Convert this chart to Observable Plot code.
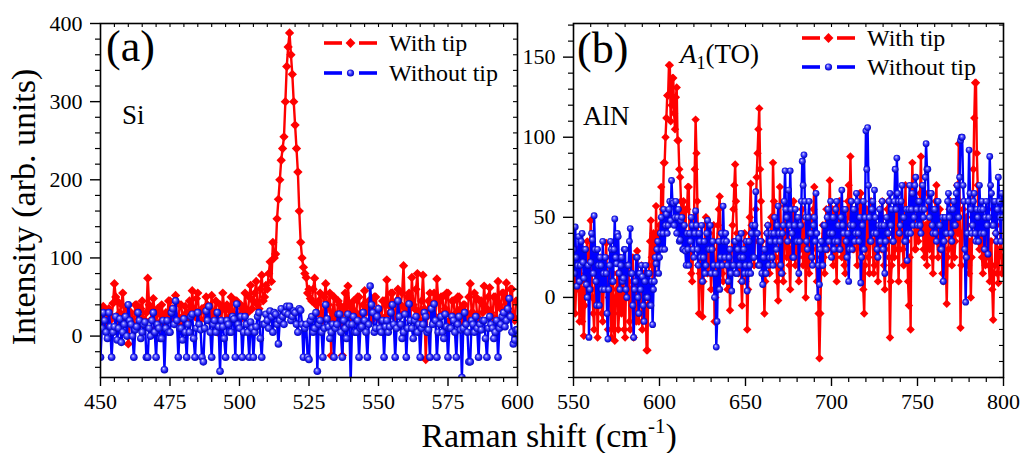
<!DOCTYPE html>
<html><head><meta charset="utf-8">
<script src="https://cdn.jsdelivr.net/npm/d3@7"></script>
<script src="https://cdn.jsdelivr.net/npm/@observablehq/plot@0.6"></script>
<style>
body{margin:0;background:#fff;}
#fig{position:relative;width:1021px;height:453px;overflow:hidden;background:#fff;font-family:"Liberation Serif","Times New Roman",serif;}
.pnl{position:absolute;top:0;}
.pnl svg{overflow:visible;background:transparent;font-family:"Liberation Serif","Times New Roman",serif;}
#ov{position:absolute;left:0;top:0;}
</style></head><body><div id="fig"></div>
<script>
// ---- Panel (a): Si, Raman shift 450..600 cm-1, sampled every 0.5 cm-1 ----
const siStart = 450, siStep = 0.5;
const siWithTip = [
 30,22,38,15,10,28,35,20,25,42,67,50,45,18,30,40,55,25,20,35,
 -10,15,30,22,15,40,40,12,25,35,45,18,20,30,74,40,35,22,48,30,
 10,35,30,18,40,25,5,30,25,45,45,20,35,28,52,15,20,40,40,25,
 15,38,30,20,45,25,58,35,25,48,55,20,10,35,35,22,50,40,20,30,
 52,25,30,45,5,30,40,20,55,35,15,40,35,25,50,30,25,45,45,20,
 20,40,35,25,55,30,30,50,65,35,45,55,70,40,35,60,78,45,50,65,
 60,80,95,70,120,100,105,150,175,200,225,240,255,300,345,370,388,360,335,300,
 270,240,210,160,120,100,88,80,75,55,60,48,45,60,74,40,30,45,55,25,
 20,50,67,35,40,55,-25,30,50,20,25,45,40,15,-25,35,55,30,64,40,
 15,35,45,20,30,50,50,25,20,40,58,30,35,45,45,20,25,50,50,30,
 35,20,20,45,45,25,72,40,30,55,55,25,25,45,60,30,40,55,90,35,
 30,50,55,20,75,40,35,60,80,30,20,45,78,35,-30,25,45,55,30,40,
 55,25,73,45,25,50,50,30,35,55,55,20,20,45,45,25,30,50,50,35,
 15,40,40,25,25,50,67,30,30,55,50,25,20,45,45,30,64,35,35,50,
 62,30,25,50,50,20,70,40,35,55,55,25,68,35,30,60,60,25,20,45,
 45];
const siWithoutTip = [
 -27,10,30,20,5,-3,30,12,-27,5,12,25,-5,10,22,-8,5,15,25,0,
 40,20,15,0,-27,8,12,30,20,-3,5,15,18,-27,-27,10,0,20,30,5,
 -27,15,10,-3,-3,20,-43,10,20,5,5,30,35,15,45,20,-27,10,10,-5,
 22,5,-27,15,5,25,28,-3,-27,10,30,15,8,-27,-33,10,32,20,38,5,
 -27,15,20,5,30,12,-45,20,12,-3,-27,20,15,5,5,25,22,-27,41,15,
 10,25,-27,5,25,15,5,-27,18,10,-27,5,12,25,30,-3,-27,15,15,28,
 20,10,32,25,5,30,28,15,-10,20,35,25,15,30,38,28,38,20,25,32,
 30,15,5,35,33,15,-27,10,15,-27,-30,20,25,5,10,30,-45,15,20,5,
 -27,10,40,22,12,-3,5,15,-27,10,15,28,28,5,-27,20,10,-3,28,15,
 -58,15,25,5,5,20,-27,10,12,30,20,5,-27,15,64,40,30,5,10,25,
 35,10,5,20,-27,12,20,5,12,30,40,15,-27,10,45,25,15,-3,5,28,
 -27,10,41,20,10,-3,20,25,5,15,-27,10,15,30,25,5,8,-27,35,15,
 41,20,-27,5,15,25,5,-3,28,12,-27,10,10,25,20,5,-27,15,25,8,
 -53,10,30,15,5,-33,-33,20,15,5,25,10,-27,15,8,20,20,-3,-27,10,
 25,15,10,-3,5,20,-27,10,15,25,30,12,20,35,48,25,5,-10,-5,8,
 8];
// ---- Panel (b): AlN, Raman shift 550..800 cm-1, sampled every 0.5 cm-1 ----
const alnStart = 550, alnStep = 0.5;
const alnWithTip = [
 15,30,-10,5,30,20,5,-15,25,10,-15,5,-24,-5,15,30,35,12,10,25,
 48,20,0,-10,-20,5,25,10,-25,-5,10,25,20,-10,-15,5,5,20,34,10,
 -20,0,10,25,-25,-5,15,-20,-27,0,5,15,-20,-10,25,0,-10,15,15,-20,
 -25,5,0,20,20,-15,-20,5,10,25,-25,0,5,-15,29,10,-15,0,10,20,
 -20,5,15,-10,-5,-33,-33,10,20,35,48,25,10,40,35,15,57,30,25,40,
 45,35,69,50,55,84,84,100,112,126,126,145,145,110,120,137,137,115,105,125,
 131,98,98,80,75,60,52,40,60,35,40,55,55,69,69,35,30,15,10,30,
 45,80,111,90,60,20,-10,15,35,20,-12,10,20,45,50,25,15,35,40,20,
 5,20,30,45,-15,0,20,35,45,55,63,40,25,15,10,35,40,25,20,5,
 5,30,-8,15,30,45,55,70,83,60,40,20,15,35,30,10,-5,20,25,40,
 10,30,-20,5,35,50,71,45,40,25,20,35,55,75,90,105,118,80,60,35,
 30,15,-10,10,25,40,45,20,15,35,50,30,84,60,40,25,20,10,-2,25,
 69,45,30,15,10,40,57,35,25,50,40,20,5,30,35,50,60,30,20,45,
 45,25,10,35,30,50,55,20,25,45,0,30,40,20,15,40,50,25,30,55,
 69,40,25,10,10,-10,-38,-10,20,35,45,25,15,40,55,30,30,50,73,45,
 40,55,20,35,55,25,10,40,35,60,60,30,25,50,45,20,15,35,40,60,
 70,50,88,60,50,30,30,45,55,35,20,40,40,65,65,30,25,5,-10,20,
 30,55,50,25,15,35,60,40,35,15,20,45,45,25,10,30,55,40,30,60,
 40,20,5,30,35,55,60,25,-25,10,20,40,45,25,30,55,65,40,10,30,
 40,60,55,30,20,45,70,40,35,10,-5,25,-20,50,84,60,50,30,30,55,
 60,35,40,65,88,50,55,30,25,45,45,20,65,40,30,55,50,25,15,40,
 40,60,70,35,25,50,55,30,35,15,10,40,45,20,-4,25,30,55,60,35,
 20,45,50,25,35,60,70,40,96,60,-19,20,40,55,60,30,25,50,45,20,
 15,35,0,25,55,80,112,134,134,90,70,35,30,55,50,25,15,40,40,20,
 25,45,55,20,10,35,35,5,-14,15,20,40,45,15,9,30,30,50,15,25,
 20];
const alnWithoutTip = [
 30,15,44,25,7,20,38,10,20,35,40,22,12,30,30,8,0,20,-25,5,
 22,40,36,15,51,30,10,-5,30,20,-5,25,20,5,35,15,5,25,15,-10,
 -26,5,20,35,30,10,10,30,49,25,21,40,38,15,5,20,25,10,12,30,
 30,5,0,20,20,35,43,15,15,-5,-25,5,10,25,25,0,-10,15,5,20,
 13,-5,-15,10,20,0,0,15,15,-5,-5,10,-17,5,10,25,21,30,35,15,
 25,40,50,30,40,55,30,45,52,40,45,55,60,48,73,60,59,45,50,60,
 40,50,55,35,36,48,50,30,30,45,29,20,40,30,20,40,35,50,45,30,
 25,40,54,45,30,20,40,35,25,45,10,25,35,15,20,40,48,30,30,45,
 15,30,35,20,0,15,-31,-15,20,35,5,25,40,20,57,35,25,40,35,20,
 10,25,30,15,4,20,20,35,35,15,15,30,37,20,25,40,10,25,30,15,
 20,35,4,15,35,20,15,40,45,25,25,45,66,40,40,20,20,35,35,15,
 8,25,30,15,15,40,45,20,25,35,40,25,20,40,50,35,30,45,57,40,
 35,20,15,40,45,60,79,55,50,35,67,45,79,55,40,25,25,45,55,35,
 35,50,15,35,45,60,85,70,89,60,50,35,30,50,60,40,40,25,20,45,
 50,35,65,40,0,20,8,30,35,20,20,45,45,30,30,50,55,35,40,60,
 25,40,50,30,35,55,60,35,45,30,30,50,67,45,40,55,55,35,25,40,
 10,30,45,60,30,45,55,35,40,65,60,40,35,50,9,25,45,60,30,50,
 104,80,106,70,50,35,35,55,60,40,67,50,40,30,25,45,55,35,45,60,
 30,45,15,35,50,40,40,60,65,45,55,35,35,60,80,55,87,65,60,40,
 45,60,70,50,50,35,35,55,23,40,55,70,40,55,65,45,50,70,75,55,
 45,60,60,45,40,55,70,50,55,75,96,80,80,60,50,65,65,45,40,55,
 55,40,35,60,60,45,45,30,30,50,10,35,50,40,40,60,65,50,55,40,
 35,55,60,45,45,65,70,50,50,75,98,100,100,70,60,30,-3,25,40,60,
 92,65,55,40,45,60,65,40,35,55,50,35,70,55,40,60,55,40,30,50,
 60,45,27,50,88,70,65,45,45,60,60,40,35,55,75,60,50,35,65,50,
 55];
// ---- axes ----
const ticksAX = [450,475,500,525,550,575,600];
const ticksAY = [0,100,200,300,400];
const ticksBX = [550,600,650,700,750,800];
const ticksBY = [0,50,100,150];
const seriesNames = ["With tip", "Without tip"];

const FONT = "Liberation Serif, Times New Roman, serif";
const RED = "#ff0000", BLUE = "#0000ff";
const H = 453, MT = 23, MB = 76;

function panel(cfg){
  const innerW = cfg.width - cfg.ml - cfg.mr, innerH = H - MT - MB;
  const red = cfg.red.map((y,i)=>({x: cfg.x0 + i*cfg.dx, y}));
  const blue = cfg.blue.map((y,i)=>({x: cfg.x0 + i*cfg.dx, y}));
  const minorX = d3.range(cfg.xd[0], cfg.xd[1] + 0.01, cfg.xmStep).filter(v => !cfg.xt.includes(v));
  const allX = d3.range(cfg.xd[0], cfg.xd[1] + 0.01, cfg.xmStep);
  const y0 = Math.ceil(cfg.yd[0]/cfg.ymStep)*cfg.ymStep;
  const minorY = d3.range(y0, cfg.yd[1] + 0.01, cfg.ymStep).filter(v => !cfg.yt.includes(v));
  const allY = d3.range(y0, cfg.yd[1] + 0.01, cfg.ymStep);
  const svg = Plot.plot({
    width: cfg.width, height: H,
    marginLeft: cfg.ml, marginRight: cfg.mr, marginTop: MT, marginBottom: MB,
    x: {domain: cfg.xd}, y: {domain: cfg.yd},
    style: {fontFamily: FONT, fontSize: "22px", color: "black", background: "transparent", overflow: "visible"},
    marks: [
      Plot.line(red, {x: "x", y: "y", stroke: RED, strokeWidth: cfg.lw, clip: true}),
      Plot.dot(red, {x: "x", y: "y", symbol: "diamond2", fill: RED, stroke: "none", r: cfg.rr, clip: true}),
      Plot.line(blue, {x: "x", y: "y", stroke: BLUE, strokeWidth: cfg.lw, clip: true}),
      Plot.dot(blue, {x: "x", y: "y", fill: `url(#${cfg.id}-ball)`, stroke: "none", r: cfg.rb, clip: true}),
      Plot.frame({stroke: "black", strokeWidth: 1.6}),
      Plot.axisX({ticks: cfg.xt, tickSize: 9, tickPadding: 7, label: null, fontSize: 22, fontFamily: FONT, strokeWidth: 1.4}),
      Plot.axisY({ticks: cfg.yt, tickSize: 10, tickPadding: 8, label: null, fontSize: 22, fontFamily: FONT, strokeWidth: 1.4}),
      Plot.tickX(minorX, {x: d => d, insetTop: innerH, insetBottom: -5, stroke: "black", strokeWidth: 1.2}),
      Plot.tickY(minorY, {y: d => d, insetLeft: -5, insetRight: innerW, stroke: "black", strokeWidth: 1.2}),
      Plot.tickX(allX, {x: d => d, insetTop: 0, insetBottom: innerH - 4, stroke: "black", strokeWidth: 1.1}),
      Plot.tickY(allY, {y: d => d, insetLeft: innerW - 4, insetRight: 0, stroke: "black", strokeWidth: 1.1})
    ]
  });
  d3.select(svg).selectAll("text").attr("font-family", FONT);
  d3.select(svg).insert("defs", ":first-child").html(
    `<radialGradient id="${cfg.id}-ball" cx="0.5" cy="0.5" r="0.55" fx="0.38" fy="0.33">
       <stop offset="0" stop-color="#e8e8ff"/>
       <stop offset="0.28" stop-color="#7070ff"/>
       <stop offset="0.65" stop-color="#1a1aee"/>
       <stop offset="1" stop-color="#0000a8"/>
     </radialGradient>`);
  const div = document.createElement("div");
  div.className = "pnl";
  div.style.left = cfg.left + "px";
  div.style.width = cfg.width + "px";
  div.appendChild(svg);
  return div;
}

const fig = document.getElementById("fig");
fig.appendChild(panel({id: "a", left: 0, width: 540, ml: 100, mr: 23,
  x0: siStart, dx: siStep, red: siWithTip, blue: siWithoutTip, lw: 2.4, rr: 4.2, rb: 3.8,
  xd: [450, 600], yd: [-53, 400], xt: ticksAX, yt: ticksAY, xmStep: 5, ymStep: 20}));
fig.appendChild(panel({id: "b", left: 520, width: 501, ml: 53, mr: 18,
  x0: alnStart, dx: alnStep, red: alnWithTip, blue: alnWithoutTip, lw: 2.4, rr: 3.8, rb: 3.4,
  xd: [550, 800], yd: [-50, 171], xt: ticksBX, yt: ticksBY, xmStep: 10, ymStep: 10}));

// ---- annotations overlay ----
const ov = d3.select(fig).append("svg").attr("id", "ov").attr("width", 1021).attr("height", H)
  .style("font-family", FONT).style("pointer-events", "none");
ov.append("defs").html(
  `<radialGradient id="leg-ball" cx="0.5" cy="0.5" r="0.55" fx="0.38" fy="0.33">
     <stop offset="0" stop-color="#e8e8ff"/><stop offset="0.28" stop-color="#7070ff"/>
     <stop offset="0.65" stop-color="#1a1aee"/><stop offset="1" stop-color="#0000a8"/>
   </radialGradient>`);
ov.append("text").attr("transform", "translate(35,207) rotate(-90)").attr("text-anchor", "middle")
  .attr("font-size", 34).text("Intensity (arb. units)");
const xl = ov.append("text").attr("x", 549).attr("y", 447).attr("text-anchor", "middle").attr("font-size", 34);
xl.append("tspan").text("Raman shift (cm");
xl.append("tspan").attr("font-size", 21).attr("dy", -14).text("-1");
xl.append("tspan").attr("dy", 14).text(")");
ov.append("text").attr("x", 106).attr("y", 61).attr("font-size", 44).text("(a)");
ov.append("text").attr("x", 577).attr("y", 63).attr("font-size", 44).text("(b)");
ov.append("text").attr("x", 122).attr("y", 124).attr("font-size", 27).text("Si");
ov.append("text").attr("x", 583).attr("y", 125).attr("font-size", 27).text("AlN");
const a1 = ov.append("text").attr("x", 680).attr("y", 63).attr("font-size", 27);
a1.append("tspan").attr("font-style", "italic").text("A");
a1.append("tspan").attr("font-size", 18).attr("dy", 6).text("1");
a1.append("tspan").attr("dy", -6).text("(TO)");
function legend(x0, yRed, yBlue){
  const rows = [{y: yRed, c: RED, name: seriesNames[0], sym: "d"}, {y: yBlue, c: BLUE, name: seriesNames[1], sym: "c"}];
  rows.forEach(r => {
    ov.append("line").attr("x1", x0).attr("x2", x0 + 18).attr("y1", r.y).attr("y2", r.y).attr("stroke", r.c).attr("stroke-width", 3.6);
    ov.append("line").attr("x1", x0 + 35).attr("x2", x0 + 53).attr("y1", r.y).attr("y2", r.y).attr("stroke", r.c).attr("stroke-width", 3.6);
    if (r.sym === "d") ov.append("path").attr("d", d3.symbol(d3.symbolDiamond2, 62)()).attr("transform", `translate(${x0 + 26.5},${r.y})`).attr("fill", r.c);
    else ov.append("circle").attr("cx", x0 + 26.5).attr("cy", r.y).attr("r", 3.6).attr("fill", "url(#leg-ball)");
    ov.append("text").attr("x", x0 + 65).attr("y", r.y + 8).attr("font-size", 24).text(r.name);
  });
}
legend(324, 43, 73);
legend(802, 38, 67);
</script></body></html>
